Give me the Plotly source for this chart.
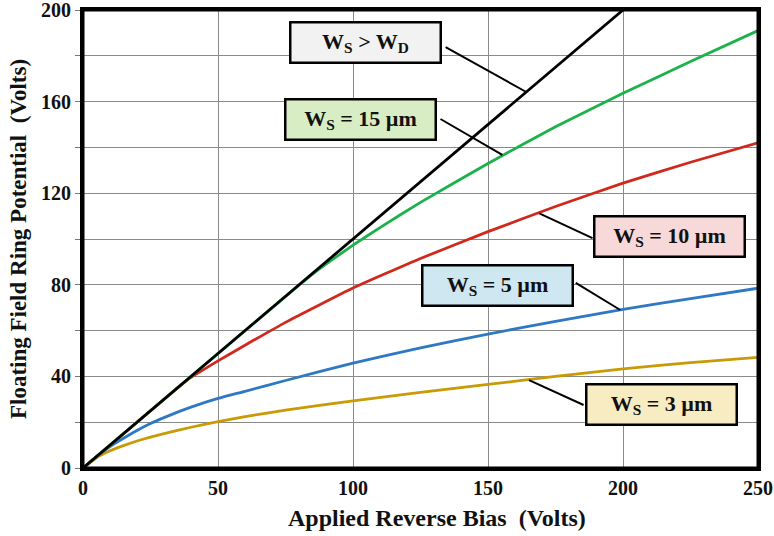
import plotly.graph_objects as go

# ---- data ----
black_x = [0, 200]
black_y = [0, 200]

green_x = [0, 40, 80, 85, 90, 95, 100, 110, 125, 150, 175, 200, 225, 250]
green_y = [0, 40, 79.8, 84.6, 89, 93.2, 97.3, 105, 116, 133, 149, 163.6, 177.5, 191]

red_x = [0, 35, 40, 45, 50, 60, 75, 100, 125, 150, 175, 200, 225, 250]
red_y = [0, 35, 39.6, 43.2, 46.8, 53.6, 63.6, 78.6, 91.5, 103.2, 114.2, 124.4, 133.5, 142]

blue_x = [0, 5, 10, 15, 20, 25, 30, 35, 40, 50, 60, 75, 100, 125, 150, 175, 200, 225, 250]
blue_y = [0, 5, 9.4, 13.0, 16.4, 19.4, 22.0, 24.4, 26.6, 30.4, 33.5, 38.2, 45.8, 52.5, 58.5, 64, 69.3, 74, 78.5]

gold_x = [0, 5, 10, 15, 20, 25, 30, 40, 50, 60, 75, 100, 125, 150, 175, 200, 225, 250]
gold_y = [0, 4.5, 7.5, 9.8, 11.8, 13.5, 15, 17.8, 20.3, 22.4, 25.3, 29.3, 33, 36.5, 40, 43.3, 46, 48.3]

x_ticks = [0, 50, 100, 150, 200, 250]
y_ticks = [0, 40, 80, 120, 160, 200]

# label boxes: text, fill, box centre (data), pointer start (data), pointer end (data, on curve)
labels = [
    ("W<sub>S</sub> > W<sub>D</sub>", "#f2f2f2", (104.8, 186.0), (134.3, 183.8), (164.0, 164.3)),
    ("W<sub>S</sub> = 15 µm", "#d8edc4", (102.7, 152.0), (132.4, 152.4), (155.3, 136.7)),
    ("W<sub>S</sub> = 10 µm", "#f8d9d9", (217.4, 101.3), (188.7, 100.4), (169.0, 111.2)),
    ("W<sub>S</sub> = 5 µm", "#cfe7f0", (153.4, 79.9), (182.5, 80.8), (199.0, 69.0)),
    ("W<sub>S</sub> = 3 µm", "#f7ecc2", (214.3, 27.6), (185.4, 27.5), (165.2, 38.4)),
]

FONT = "Liberation Serif, Times New Roman, serif"
TXT = "#111111"

fig = go.Figure()
series = [
    (gold_x, gold_y, "#c99a06", "W_S = 3 µm"),
    (blue_x, blue_y, "#2f78c4", "W_S = 5 µm"),
    (red_x, red_y, "#d0281c", "W_S = 10 µm"),
    (green_x, green_y, "#1cb24b", "W_S = 15 µm"),
    (black_x, black_y, "#000000", "W_S > W_D"),
]
for xs, ys, col, name in series:
    fig.add_trace(go.Scatter(x=xs, y=ys, mode="lines", name=name,
                             line=dict(color=col, width=2.8, shape="spline", smoothing=0.4),
                             hoverinfo="x+y+name"))

for text, fill, (cx, cy), (sx, sy), (ex, ey) in labels:
    fig.add_shape(type="line", x0=sx, y0=sy, x1=ex, y1=ey, xref="x", yref="y",
                  line=dict(color="black", width=2), layer="above")
    fig.add_annotation(x=cx, y=cy, xref="x", yref="y", text=text, showarrow=False,
                       bgcolor=fill, bordercolor="black", borderwidth=2.5, borderpad=0,
                       width=148, height=38,
                       font=dict(family=FONT, size=22, color=TXT, weight="bold"))

# plot frame
fig.add_shape(type="rect", xref="paper", yref="paper", x0=0, y0=0, x1=1, y1=1,
              line=dict(color="black", width=3), layer="above")

# x-axis title (placed slightly right of centre, as in the reference)
fig.add_annotation(x=0.524, y=-0.109, xref="paper", yref="paper",
                   text="Applied Reverse Bias\u00a0\u00a0(Volts)", showarrow=False,
                   xanchor="center", yanchor="middle",
                   font=dict(family=FONT, size=24, color=TXT, weight="bold"))

fig.update_layout(
    width=774, height=536,
    margin=dict(l=83, r=16, t=10, b=68),
    paper_bgcolor="white", plot_bgcolor="white",
    showlegend=False,
    font=dict(family=FONT, size=20, color=TXT),
)
fig.update_xaxes(
    range=[0, 250], tickvals=x_ticks, ticktext=[str(v) for v in x_ticks],
    showgrid=True, gridcolor="#8a8a8a", gridwidth=1,
    showline=True, linecolor="black", linewidth=3, mirror=True,
    ticks="", zeroline=False, automargin=False, ticklabeloverflow="allow",
    tickfont=dict(family=FONT, size=20, color=TXT, weight="bold"),
)
fig.update_yaxes(
    range=[0, 200], tickvals=y_ticks, ticktext=[str(v) for v in y_ticks],
    showgrid=True, gridcolor="#8a8a8a", gridwidth=1,
    minor=dict(dtick=20, tick0=0, showgrid=True, gridcolor="#8a8a8a", gridwidth=1,
               ticks="outside", ticklen=5, tickcolor="#777"),
    showline=True, linecolor="black", linewidth=3, mirror=True,
    ticks="outside", ticklen=5, tickcolor="#777", zeroline=False, automargin=False,
    ticklabeloverflow="allow",
    tickfont=dict(family=FONT, size=20, color=TXT, weight="bold"),
    title=dict(text="Floating Field Ring Potential\u00a0\u00a0(Volts)", standoff=8,
               font=dict(family=FONT, size=23, color=TXT, weight="bold")),
)

fig.write_html("out.html")
